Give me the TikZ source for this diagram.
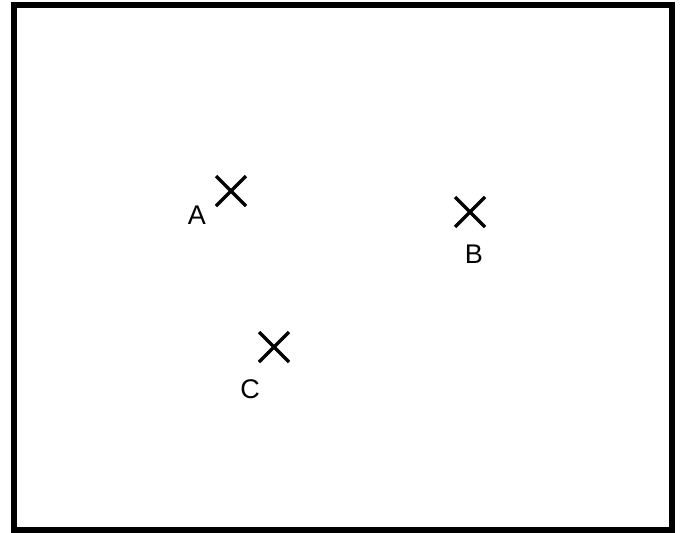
\documentclass[tikz,border=0pt]{standalone}
\usepackage{fontspec}
\setmainfont{Liberation Sans}
\usetikzlibrary{shapes.misc}
\begin{document}
\begin{tikzpicture}[x=1pt,y=-1pt,
  xmark/.style={cross out,draw=black,line width=3.5pt,minimum size=30pt,inner sep=0pt,outer sep=0pt},
  lbl/.style={font=\fontsize{27}{32}\selectfont,text=black,inner sep=0pt}]
\useasboundingbox (0,0) rectangle (681,533);
\draw[line width=6pt] (14,5) rectangle (672,530);
\node[xmark] (A) at (231,191) {};
\node[xmark] (B) at (470,212) {};
\node[xmark] (C) at (274,347) {};
\node[lbl] (la) at (197,215) {A};
\node[lbl] (lb) at (474,254) {B};
\node[lbl] (lc) at (250,389) {C};
\end{tikzpicture}
\end{document}
